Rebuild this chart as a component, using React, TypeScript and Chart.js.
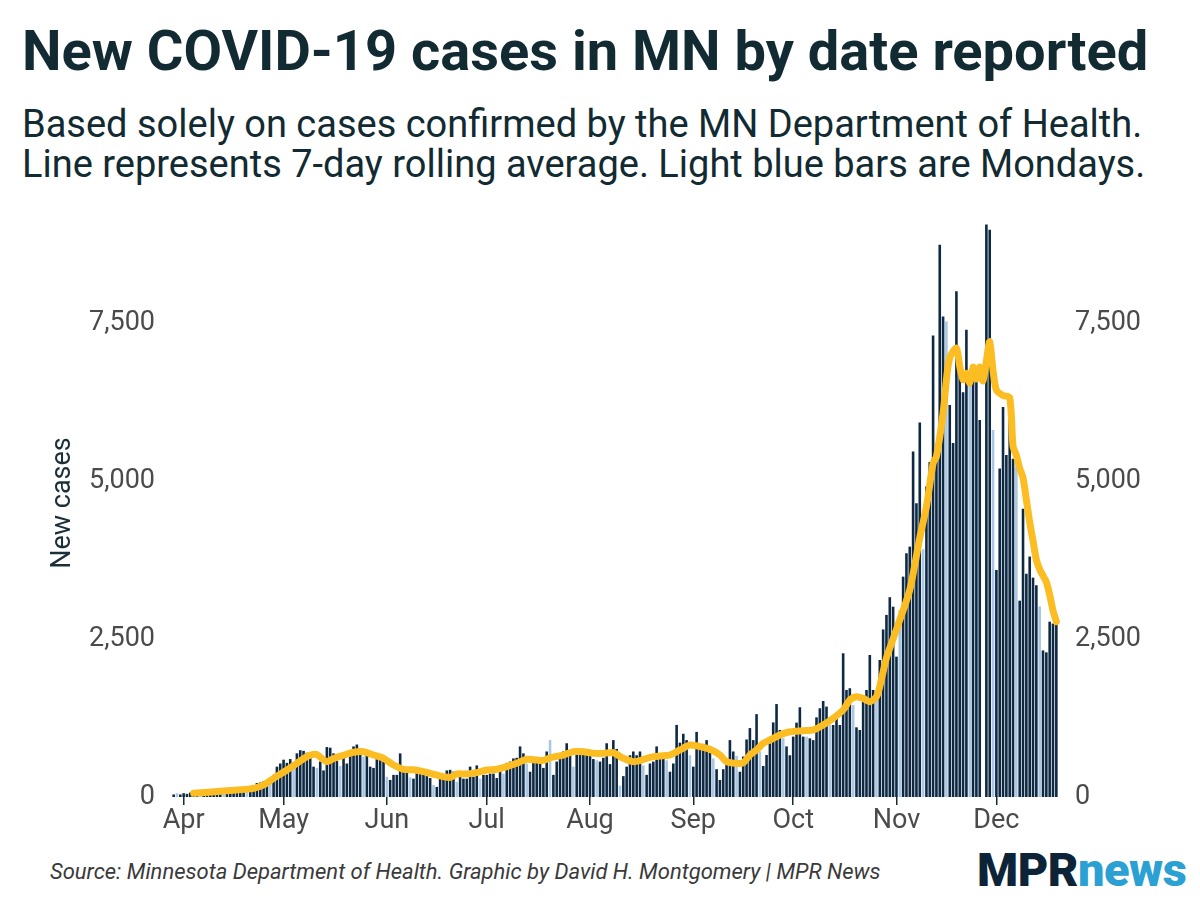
import React, { useEffect, useRef } from "react";
import { Chart, registerables } from "chart.js";
Chart.register(...registerables);

// Daily new cases by date reported (2020), one array per month
const casesMar = [40, 60, 40]; // Mar 29-31
const casesApr = [60, 50, 70, 50, 40, 50, 70, 80, 90, 90, 80, 60, 80, 100, 90, 100, 130, 120, 110, 110, 150, 190, 220, 230, 250, 200, 220, 350, 480, 530];
const casesMay = [590, 540, 600, 450, 690, 740, 730, 700, 690, 480, 460, 560, 420, 790, 780, 690, 570, 490, 700, 530, 700, 800, 830, 700, 640, 680, 480, 460, 600, 620, 560];
const casesJun = [320, 270, 350, 350, 690, 400, 380, 310, 290, 400, 380, 400, 330, 300, 190, 160, 320, 350, 420, 430, 400, 240, 380, 290, 290, 480, 320, 500, 290, 350];
const casesJul = [350, 370, 370, 300, 500, 370, 540, 560, 610, 620, 800, 690, 530, 400, 580, 600, 530, 460, 720, 900, 350, 560, 640, 720, 850, 700, 480, 720, 700, 720, 700];
const casesAug = [720, 600, 580, 560, 620, 850, 520, 900, 760, 180, 330, 480, 660, 720, 660, 720, 500, 350, 530, 560, 800, 690, 690, 580, 400, 530, 1140, 860, 1000, 900, 660];
const casesSep = [480, 1030, 820, 840, 900, 700, 610, 440, 270, 440, 560, 900, 720, 650, 400, 640, 910, 1090, 900, 1310, 720, 490, 664, 850, 1180, 1470, 1060, 930, 800, 660];
const casesOct = [955, 1176, 1419, 955, 955, 928, 900, 1260, 1403, 1518, 1430, 1139, 1139, 1260, 1139, 2273, 1693, 1720, 1455, 1102, 1060, 1508, 1693, 2246, 1693, 1535, 2167, 2650, 2880, 3160, 3010];
const casesNov = [2220, 2958, 3485, 3855, 3960, 5463, 4646, 5922, 3918, 4909, 5300, 7300, 5500, 8733, 7600, 7520, 6200, 5600, 8000, 6800, 6400, 7390, 6571, 6650, 6610, 5964, null, 9055, 8970, 5803];
const casesDec = [3591, 5197, 6167, 5409, 6347, 5348, 5227, 3105, 4561, 3531, 3803, 3470, 3349, 3015, 2318, 2288, 2773, 2743, 2773];

const monthBlocks: { month: number; firstDay: number; values: (number | null)[] }[] = [
  { month: 3, firstDay: 29, values: casesMar },
  { month: 4, firstDay: 1, values: casesApr },
  { month: 5, firstDay: 1, values: casesMay },
  { month: 6, firstDay: 1, values: casesJun },
  { month: 7, firstDay: 1, values: casesJul },
  { month: 8, firstDay: 1, values: casesAug },
  { month: 9, firstDay: 1, values: casesSep },
  { month: 10, firstDay: 1, values: casesOct },
  { month: 11, firstDay: 1, values: casesNov },
  { month: 12, firstDay: 1, values: casesDec },
];

// 7-day rolling average line
const lineDates = [
  "2020-04-04", "2020-04-13", "2020-04-22", "2020-04-25", "2020-04-28", "2020-05-02", "2020-05-05", "2020-05-08",
  "2020-05-10", "2020-05-11", "2020-05-14", "2020-05-16", "2020-05-19", "2020-05-22", "2020-05-25", "2020-05-28",
  "2020-05-31", "2020-06-03", "2020-06-06", "2020-06-09", "2020-06-12", "2020-06-15", "2020-06-18", "2020-06-20",
  "2020-06-22", "2020-06-25", "2020-06-28", "2020-07-01", "2020-07-04", "2020-07-07", "2020-07-10", "2020-07-13",
  "2020-07-16", "2020-07-18", "2020-07-20", "2020-07-24", "2020-07-27", "2020-07-30", "2020-08-02", "2020-08-05",
  "2020-08-08", "2020-08-11", "2020-08-14", "2020-08-16", "2020-08-19", "2020-08-22", "2020-08-25", "2020-08-28",
  "2020-08-31", "2020-09-03", "2020-09-06", "2020-09-09", "2020-09-11", "2020-09-14", "2020-09-16", "2020-09-18",
  "2020-09-20", "2020-09-22", "2020-09-24", "2020-09-27", "2020-09-30", "2020-10-04", "2020-10-07", "2020-10-10",
  "2020-10-13", "2020-10-16", "2020-10-18", "2020-10-20", "2020-10-22", "2020-10-24", "2020-10-26", "2020-10-27",
  "2020-10-29", "2020-10-31", "2020-11-02", "2020-11-05", "2020-11-08", "2020-11-10", "2020-11-12", "2020-11-13",
  "2020-11-15", "2020-11-16", "2020-11-17", "2020-11-19", "2020-11-20", "2020-11-21", "2020-11-22", "2020-11-23",
  "2020-11-24", "2020-11-25", "2020-11-26", "2020-11-27", "2020-11-28", "2020-11-29", "2020-11-30", "2020-12-01",
  "2020-12-03", "2020-12-05", "2020-12-06", "2020-12-07", "2020-12-08", "2020-12-09", "2020-12-10", "2020-12-11",
  "2020-12-12", "2020-12-13", "2020-12-14", "2020-12-15", "2020-12-16", "2020-12-17", "2020-12-18", "2020-12-19",
];
const lineAvg = [
  58, 95, 137, 190, 295, 427, 533, 638,
  675, 670, 559, 610, 660, 707, 717, 664,
  612, 506, 438, 430, 401, 359, 322, 311,
  364, 364, 385, 427, 438, 480, 533, 596,
  585, 580, 620, 664, 717, 717, 690, 690,
  700, 612, 559, 575, 628, 649, 664, 744,
  823, 796, 754, 664, 559, 530, 540, 664,
  744, 849, 902, 981, 1033, 1049, 1060, 1139,
  1245, 1376, 1535, 1587, 1560, 1508, 1587, 1750,
  2200, 2500, 2800, 3275, 4100, 4593, 5279, 5384,
  6070, 6600, 6950, 7100, 6808, 6600, 6700, 6550,
  6800, 6610, 6800, 6580, 6900, 7200, 6741, 6438,
  6350, 6317, 5550, 5400, 5200, 5050, 4700, 4350,
  4050, 3750, 3600, 3500, 3400, 3200, 2950, 2773,
];

const yTicks = [0, 2500, 5000, 7500];
const monthNames = ["Jan", "Feb", "Mar", "Apr", "May", "Jun", "Jul", "Aug", "Sep", "Oct", "Nov", "Dec"];

const pad = (n: number) => (n < 10 ? "0" + n : "" + n);
const labels: string[] = [];
const caseValues: (number | null)[] = [];
monthBlocks.forEach((b) => {
  b.values.forEach((v, i) => {
    labels.push(`2020-${pad(b.month)}-${pad(b.firstDay + i)}`);
    caseValues.push(v);
  });
});
const isMonday = (lab: string) => {
  const [y, m, d] = lab.split("-").map(Number);
  return new Date(Date.UTC(y, m - 1, d)).getUTCDay() === 1;
};
const isMonthStart = (lab: string) => lab.endsWith("-01");

const DARK = "#0e2943";
const LIGHT = "#a9c7e2";
const YELLOW = "#fbbd22";
const TEXT = "#122a31";

export default function App() {
  const ref = useRef<HTMLCanvasElement | null>(null);
  useEffect(() => {
    if (!ref.current) return;
    const makeY = (position: string, width: number, withTitle: boolean) => ({
      position,
      min: 0,
      max: 9300,
      grid: { display: false },
      border: { display: false },
      afterBuildTicks: (s: any) => {
        s.ticks = yTicks.map((v) => ({ value: v }));
      },
      ticks: {
        color: "#4b4b4b",
        font: { family: "Roboto", size: 27 },
        padding: 9,
        callback: (v: any) => Number(v).toLocaleString("en-US"),
      },
      title: {
        display: withTitle,
        text: "New cases",
        color: "#1c2f38",
        font: { family: "Roboto", size: 27 },
        padding: { top: 47, bottom: 0 },
      },
      afterFit: (s: any) => {
        s.width = width;
        s.paddingTop = 0;
        s.paddingBottom = 0;
      },
    });
    const chart = new Chart(ref.current, {
      type: "bar",
      data: {
        labels,
        datasets: [
          {
            type: "line",
            data: lineDates.map((d, i) => ({ x: d, y: lineAvg[i] })) as any,
            borderColor: YELLOW,
            borderWidth: 7,
            pointRadius: 0,
            tension: 0.25,
            borderJoinStyle: "round",
            borderCapStyle: "round",
            order: 0,
            yAxisID: "y",
          } as any,
          {
            type: "bar",
            data: caseValues,
            backgroundColor: labels.map((l) => (isMonday(l) ? LIGHT : DARK)),
            barPercentage: 0.78,
            categoryPercentage: 1.0,
            order: 1,
            yAxisID: "y",
          } as any,
        ],
      },
      options: {
        responsive: false,
        animation: false,
        layout: { padding: { top: 29, bottom: 0, left: 0, right: 0 } },
        plugins: { legend: { display: false }, tooltip: { enabled: false } },
        scales: {
          x: {
            type: "category",
            offset: true,
            border: { display: false },
            grid: {
              display: true,
              drawOnChartArea: false,
              drawTicks: true,
              offset: false,
              tickLength: 8,
              lineWidth: (ctx: any) => (isMonthStart(labels[ctx.index] || "") ? 1.5 : 0),
              color: (ctx: any) => (isMonthStart(labels[ctx.index] || "") ? "#1b2b33" : "rgba(0,0,0,0)"),
            },
            ticks: {
              autoSkip: false,
              maxRotation: 0,
              minRotation: 0,
              padding: 0,
              color: "#4b4b4b",
              font: { family: "Roboto", size: 27 },
              callback: (_v: any, i: number) => {
                const l = labels[i];
                return isMonthStart(l) ? monthNames[Number(l.slice(5, 7)) - 1] : "";
              },
            },
            afterFit: (s: any) => {
              s.height = 43;
              s.paddingLeft = 0;
              s.paddingRight = 0;
            },
          },
          y: makeY("left", 172, true) as any,
          y2: makeY("right", 142, false) as any,
        },
      } as any,
    });
    return () => chart.destroy();
  }, []);

  return (
    <div style={{ position: "absolute", left: 0, top: 0, width: 1200, height: 900, background: "#fff", overflow: "hidden", fontFamily: "Roboto" }}>
      <div style={{ position: "absolute", left: 22, top: 23, fontSize: 56, lineHeight: "56px", fontWeight: 700, color: TEXT, whiteSpace: "nowrap" }}>
        New COVID-19 cases in MN by date reported
      </div>
      <div style={{ position: "absolute", left: 22, top: 104, fontSize: 38, lineHeight: "40px", color: TEXT, whiteSpace: "nowrap" }}>
        Based solely on cases confirmed by the MN Department of Health.
        <br />
        Line represents 7-day rolling average. Light blue bars are Mondays.
      </div>
      <canvas ref={ref} width={1200} height={660} style={{ position: "absolute", left: 0, top: 180, width: 1200, height: 660 }} />
      <div style={{ position: "absolute", left: 50, top: 860, fontSize: 22, lineHeight: "24px", fontStyle: "italic", color: "#3a3a3a", whiteSpace: "nowrap" }}>
        Source: Minnesota Department of Health. Graphic by David H. Montgomery | MPR News
      </div>
      <div style={{ position: "absolute", left: 977, top: 846, fontSize: 47, lineHeight: "47px", fontWeight: 900, whiteSpace: "nowrap", letterSpacing: "-0.5px" }}>
        <span style={{ color: "#0d2438" }}>MPR</span>
        <span style={{ color: "#2ba1d3" }}>news</span>
      </div>
    </div>
  );
}
